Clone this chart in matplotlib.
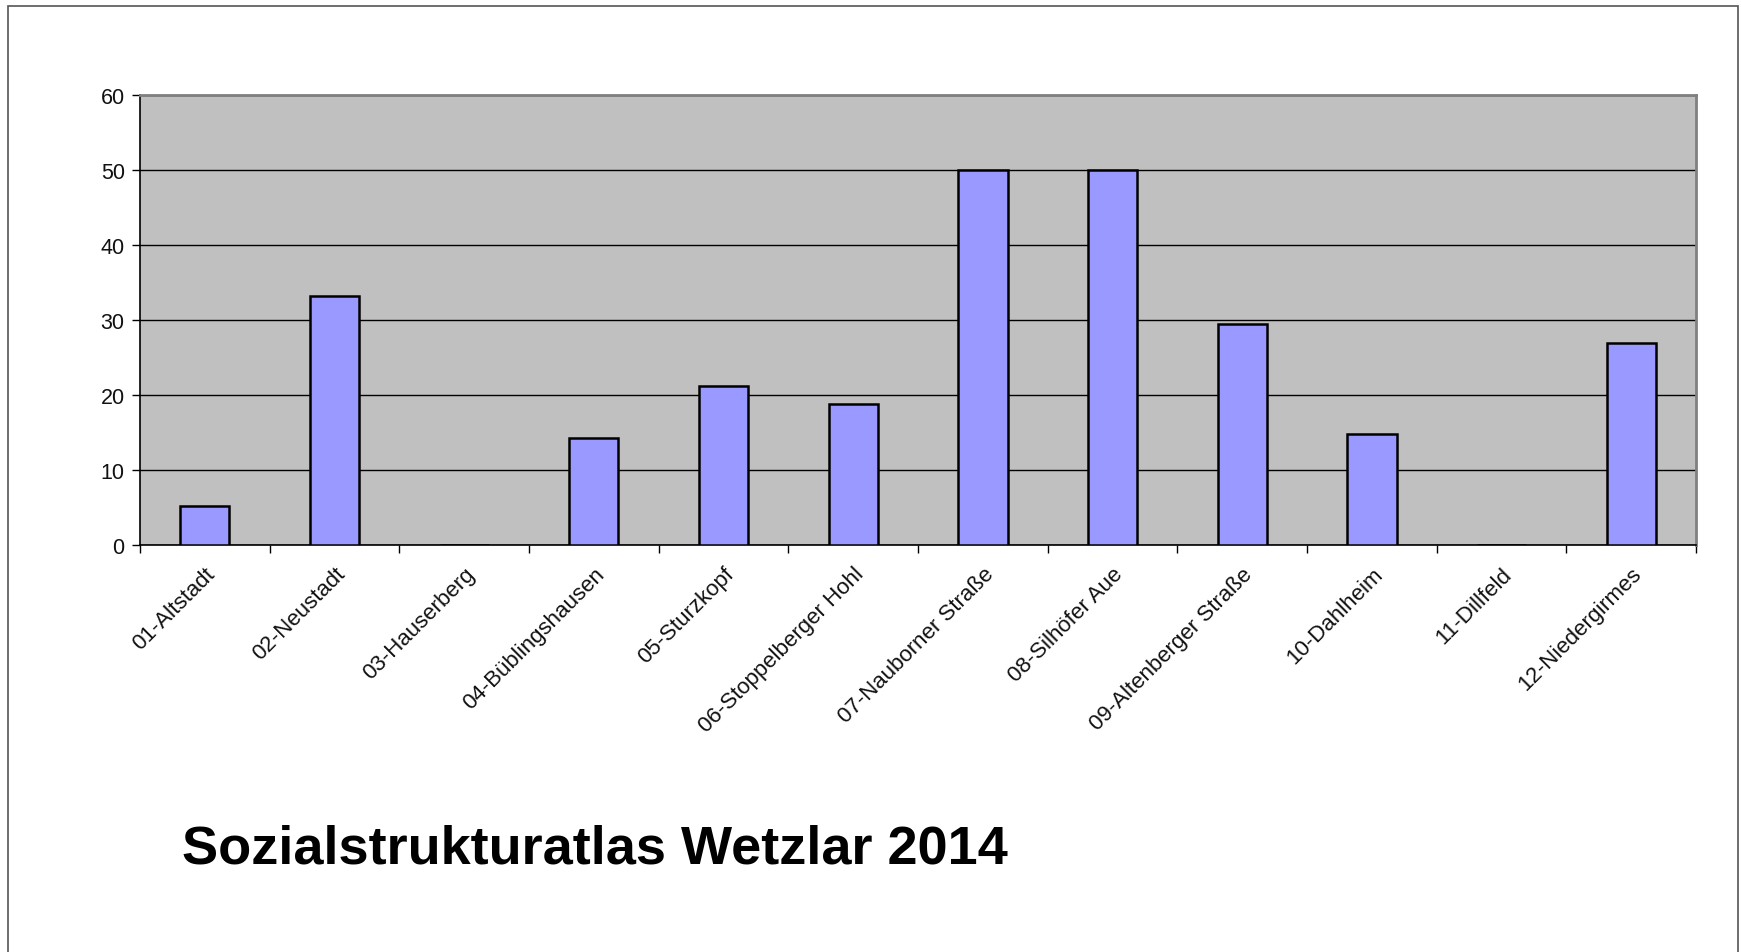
import numpy as np
import matplotlib
matplotlib.use('Agg')
import matplotlib.pyplot as plt
from matplotlib.patches import Rectangle

# Data
districts = ['01-Altstadt', '02-Neustadt', '03-Hauserberg', '04-Büblingshausen',
             '05-Sturzkopf', '06-Stoppelberger Hohl', '07-Nauborner Straße',
             '08-Silhöfer Aue', '09-Altenberger Straße', '10-Dahlheim',
             '11-Dillfeld', '12-Niedergirmes']
values = [5.2, 33.2, 0, 14.2, 21.2, 18.8, 50, 50, 29.4, 14.8, 0, 26.9]
y_ticks = [0, 10, 20, 30, 40, 50, 60]

plt.rcParams['font.family'] = ['Liberation Sans', 'DejaVu Sans']

fig = plt.figure(figsize=(17.41, 9.53), dpi=100)
ax = fig.add_axes([0.0804, 0.4271, 0.8938, 0.4722])

x = np.arange(len(districts))
ax.bar(x, values, width=0.38, color='#9999FF', edgecolor='black', linewidth=1.8, zorder=3)

ax.set_facecolor('#C0C0C0')
ax.set_xlim(-0.5, len(districts) - 0.5)
ax.set_ylim(0, 60)
ax.set_yticks(y_ticks)
ax.yaxis.grid(True, color='black', linewidth=1.0, zorder=1)
ax.set_axisbelow(True)

# ticks sit between categories, labels sit under bar centres
ax.set_xticks(np.arange(-0.5, len(districts) + 0.5, 1.0))
ax.set_xticklabels([])
ax.set_xticks(x, minor=True)
ax.set_xticklabels(districts, minor=True, rotation=45, ha='right',
                   rotation_mode='anchor', fontsize=16, color='#111111')
ax.tick_params(axis='x', which='minor', length=0, pad=13)
ax.tick_params(axis='x', which='major', length=6, width=1, color='black', direction='out')
ax.tick_params(axis='y', length=6, width=1, color='black', direction='out',
               labelsize=15.5, labelcolor='#111111', pad=5)

for side in ['left', 'bottom']:
    ax.spines[side].set_color('black')
    ax.spines[side].set_linewidth(1.2)
for side in ['top', 'right']:
    ax.spines[side].set_color('#808080')
    ax.spines[side].set_linewidth(2)

# outer frame of the slide
frame = Rectangle((8 / 1741, -0.05), 1730 / 1741, 1.05 - 7 / 953,
                  transform=fig.transFigure, fill=False,
                  edgecolor='#555555', linewidth=1.2)
fig.patches.append(frame)

fig.text(0.1045, 0.0934, 'Sozialstrukturatlas Wetzlar 2014', fontsize=39,
         fontweight='bold', ha='left', va='baseline', color='black')

fig.savefig('out.png', dpi=100)
